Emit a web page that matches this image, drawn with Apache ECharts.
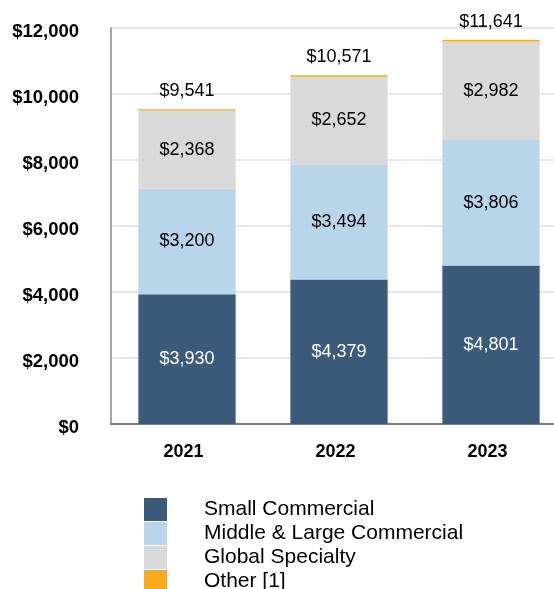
<!DOCTYPE html>
<html>
<head>
<meta charset="utf-8">
<script src="https://cdn.jsdelivr.net/npm/echarts@6/dist/echarts.min.js"></script>
<style>
  html, body { margin: 0; padding: 0; background: #fff; overflow: hidden; }
  /* the plot runs past the right edge of the page, so the canvas is a bit wider */
  #chart { width: 567px; height: 589px; }
</style>
</head>
<body>
<div id="chart"></div>
<script>
// Revenue by segment, $ millions
const years = ['2021', '2022', '2023'];
const smallCommercial = [3930, 4379, 4801];
const middleLarge = [3200, 3494, 3806];
const globalSpecialty = [2368, 2652, 2982];
const other = [43, 46, 52];
const totals = [9541, 10571, 11641];
const yTicks = [0, 2000, 4000, 6000, 8000, 10000, 12000];

const FONT = '"Liberation Sans", Arial, sans-serif';
const money = v => '$' + Math.round(v).toLocaleString('en-US');

function segment(name, data, color, textColor) {
  return {
    name, type: 'bar', stack: 'rev', data,
    barWidth: '64%',
    itemStyle: { color },
    label: {
      show: true, position: 'inside',
      formatter: p => money(p.value),
      color: textColor, fontFamily: FONT, fontSize: 18
    }
  };
}

const chart = echarts.init(document.getElementById('chart'), null, { renderer: 'canvas' });
chart.setOption({
  animation: false,
  grid: { left: 111, right: 0, top: 28, bottom: 165 },
  legend: {
    orient: 'vertical', left: 139, top: 493, height: 120,
    itemWidth: 23, itemHeight: 23, itemGap: 1,
    icon: 'rect',
    selectedMode: false,
    textStyle: { fontFamily: FONT, fontSize: 21, color: '#000', lineHeight: 23, padding: [0, 0, 0, 32] },
    data: ['Small Commercial', 'Middle & Large Commercial', 'Global Specialty', 'Other [1]']
  },
  xAxis: {
    type: 'category', data: years,
    axisLine: { lineStyle: { color: '#7f7f7f', width: 2 } },
    axisTick: { show: false },
    axisLabel: {
      color: '#000', fontFamily: FONT, fontSize: 18, fontWeight: 'bold', margin: 19,
      padding: [0, 7, 0, 0]
    }
  },
  yAxis: {
    type: 'value', min: yTicks[0], max: yTicks[yTicks.length - 1], interval: 2000,
    axisLine: { show: true, lineStyle: { color: '#a6a6a6', width: 2 } },
    axisTick: { show: false },
    splitLine: { lineStyle: { color: '#e6e6e6', width: 2 } },
    axisLabel: {
      color: '#000', fontFamily: FONT, fontSize: 18.5, fontWeight: 'bold', margin: 32,
      verticalAlign: 'top', padding: [-6, 0, 0, 0],
      formatter: v => money(v)
    }
  },
  series: [
    segment('Small Commercial', smallCommercial, '#3c5a7a', '#fff'),
    segment('Middle & Large Commercial', middleLarge, '#b9d5e9', '#000'),
    segment('Global Specialty', globalSpecialty, '#d9d9d9', '#000'),
    {
      name: 'Other [1]', type: 'bar', stack: 'rev', data: other,
      barWidth: '64%',
      itemStyle: { color: '#f9aa1a' },
      label: {
        show: true, position: 'top', distance: 9,
        formatter: p => money(totals[p.dataIndex]),
        color: '#000', fontFamily: FONT, fontSize: 18
      }
    }
  ]
});
</script>
</body>
</html>
